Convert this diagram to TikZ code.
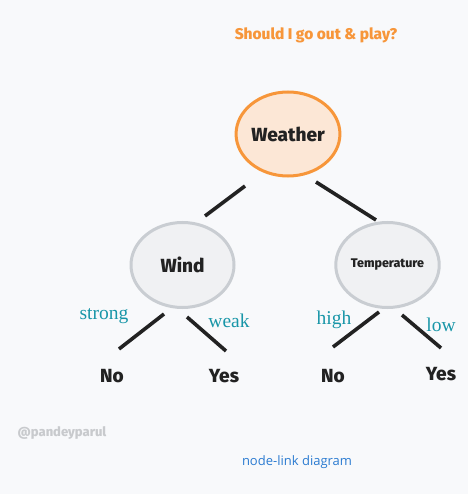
\documentclass[tikz,border=0pt]{standalone}
\usepackage{fontspec}
\usetikzlibrary{shapes.geometric}
\setmainfont{Fira Sans}
\newfontfamily\hand{Fira Sans}[BoldFont={Fira Sans ExtraBold}]
\newfontfamily\lblfont{Liberation Serif}
\newfontfamily\capfont{Open Sans}
\definecolor{bg}{HTML}{F8F9FB}
\definecolor{orng}{HTML}{F7963A}
\definecolor{orngfill}{HTML}{FCE7D6}
\definecolor{gline}{HTML}{C9CDD2}
\definecolor{gfill}{HTML}{F0F1F3}
\definecolor{teal}{HTML}{1896A8}
\definecolor{ink}{HTML}{222222}
\definecolor{blu}{HTML}{2B7BD1}
\definecolor{wm}{HTML}{C8CACD}
\tikzset{
  rootnode/.style={ellipse, draw=orng, fill=orngfill, line width=3pt, minimum width=103pt, minimum height=84pt, inner sep=0pt, font=\hand\bfseries\fontsize{19}{22}\selectfont, text=ink},
  midnode/.style={ellipse, draw=gline, fill=gfill, line width=3pt, minimum width=103pt, minimum height=85pt, inner sep=0pt, text=ink},
  leaf/.style={font=\hand\bfseries\fontsize{19}{22}\selectfont, text=ink, inner sep=0pt},
  edgeline/.style={line width=3.6pt, draw=ink},
  lbl/.style={font=\lblfont\fontsize{19.5}{22}\selectfont, text=teal, inner sep=0pt},
}
\begin{document}
\begin{tikzpicture}[x=1pt,y=-1pt]
\fill[bg] (0,0) rectangle (468,494);
\useasboundingbox (0,0) rectangle (468,494);
\node[font=\hand\bfseries\fontsize{15.5}{18}\selectfont, text=orng] (title) at (316,35) {Should I go out \& play?};
\node[rootnode] (weather) at (288,134) {Weather};
\node[midnode, font=\hand\bfseries\fontsize{19}{22}\selectfont] (wind) at (182.5,265) {Wind};
\node[midnode, font=\hand\bfseries\fontsize{12.5}{15}\selectfont] (temp) at (387.5,265) {Temperature};
\coordinate (w1) at (245,186);
\coordinate (w2) at (205,216);
\coordinate (t1) at (316,182);
\coordinate (t2) at (376,220);
\draw[edgeline] (w1) -- (w2);
\draw[edgeline] (t1) -- (t2);
\coordinate (a1) at (164,314);
\coordinate (a2) at (119,349);
\coordinate (b1) at (187,317);
\coordinate (b2) at (226,351);
\coordinate (c1) at (379,312);
\coordinate (c2) at (333,347);
\coordinate (d1) at (402,315);
\coordinate (d2) at (441,348);
\draw[edgeline] (a1) -- (a2);
\draw[edgeline] (b1) -- (b2);
\draw[edgeline] (c1) -- (c2);
\draw[edgeline] (d1) -- (d2);
\node[lbl] (strong) at (104,316) {strong};
\node[lbl] (weak) at (229,321) {weak};
\node[lbl] (high) at (334,320) {high};
\node[lbl] (low) at (441,325) {low};
\node[leaf] (no1) at (112,376) {No};
\node[leaf] (yes1) at (224,376) {Yes};
\node[leaf] (no2) at (333,376) {No};
\node[leaf] (yes2) at (441,374) {Yes};
\node[font=\hand\bfseries\fontsize{13}{15}\selectfont, text=wm] (wmark) at (62,433) {@pandeyparul};
\node[font=\capfont\fontsize{13}{15}\selectfont, text=blu] (cap) at (297,462) {node-link diagram};
\end{tikzpicture}
\end{document}
